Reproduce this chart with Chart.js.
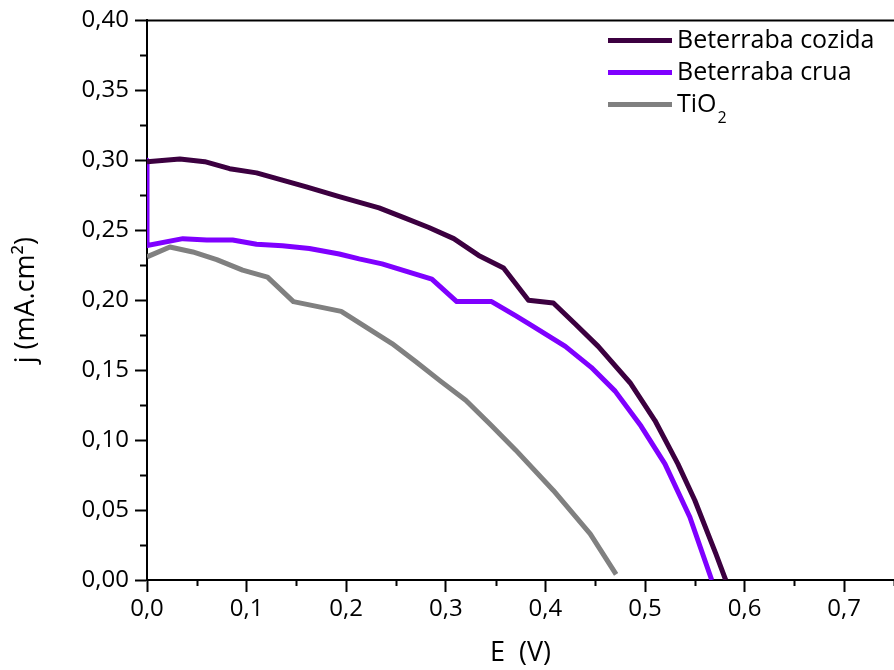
<!DOCTYPE html>
<html>
<head>
<meta charset="utf-8">
<title>j x E</title>
<script src="https://cdn.jsdelivr.net/npm/chart.js@4"></script>
<style>
  html, body { margin: 0; padding: 0; background: #fff; overflow: hidden; }
</style>
</head>
<body>
<canvas id="jvChart" width="897" height="670"></canvas>
<script>
// Beterraba cozida
const cozidaE = [0, 0.033, 0.058, 0.083, 0.11, 0.135, 0.16, 0.193, 0.233, 0.258, 0.283, 0.308, 0.333, 0.358, 0.383, 0.408, 0.43, 0.453, 0.485, 0.51, 0.533, 0.55, 0.571, 0.581];
const cozidaJ = [0.299, 0.301, 0.299, 0.294, 0.291, 0.286, 0.281, 0.274, 0.266, 0.259, 0.252, 0.244, 0.232, 0.223, 0.200, 0.198, 0.183, 0.167, 0.141, 0.114, 0.083, 0.057, 0.019, 0.0];

// Beterraba crua
const cruaE = [0, 0, 0.036, 0.06, 0.086, 0.11, 0.136, 0.163, 0.193, 0.213, 0.236, 0.263, 0.286, 0.311, 0.346, 0.37, 0.386, 0.42, 0.446, 0.47, 0.496, 0.52, 0.545, 0.567];
const cruaJ = [0.300, 0.239, 0.244, 0.243, 0.243, 0.240, 0.239, 0.237, 0.233, 0.2295, 0.226, 0.220, 0.215, 0.199, 0.199, 0.189, 0.182, 0.167, 0.152, 0.135, 0.110, 0.083, 0.045, 0.0];

// TiO2
const tioE = [0, 0.023, 0.046, 0.07, 0.096, 0.121, 0.147, 0.195, 0.246, 0.27, 0.295, 0.32, 0.345, 0.37, 0.408, 0.445, 0.471];
const tioJ = [0.231, 0.238, 0.2345, 0.229, 0.2215, 0.2165, 0.199, 0.192, 0.169, 0.156, 0.142, 0.1285, 0.111, 0.093, 0.064, 0.033, 0.004];

const seriesLabels = ['Beterraba cozida', 'Beterraba crua', 'TiO₂'];
const seriesColors = ['#3c0040', '#7f00ff', '#808080'];

const FONT = "'Open Sans', sans-serif";

function toPoints(xs, ys) {
    return xs.map((x, i) => ({ x: x, y: ys[i] }));
}

function isMajor(value, step) {
    const r = value / step;
    return Math.abs(r - Math.round(r)) < 1e-6;
}

// short minor ticks, top frame line and the legend box
const extrasPlugin = {
    id: 'extras',
    afterDraw(chart) {
        const ctx = chart.ctx;
        const area = chart.chartArea;
        const xs = chart.scales.x;
        const ys = chart.scales.y;
        ctx.save();
        ctx.strokeStyle = '#000';
        ctx.lineWidth = 2;

        ctx.beginPath();
        ctx.moveTo(area.left - 1, area.top);
        ctx.lineTo(area.right, area.top);
        ctx.stroke();

        ctx.beginPath();
        xs.ticks.forEach(t => {
            if (isMajor(t.value, 0.1)) return;
            const px = Math.round(xs.getPixelForValue(t.value)) + 0.5;
            ctx.moveTo(px, area.bottom);
            ctx.lineTo(px, area.bottom + 6);
        });
        ys.ticks.forEach(t => {
            if (isMajor(t.value, 0.05)) return;
            const py = Math.round(ys.getPixelForValue(t.value)) + 0.5;
            ctx.moveTo(area.left, py);
            ctx.lineTo(area.left - 7, py);
        });
        ctx.stroke();

        // legend
        const lx = area.left + 461;
        let ly = area.top + 20;
        ctx.font = '25px ' + FONT;
        ctx.textBaseline = 'middle';
        ctx.fillStyle = '#000';
        chart.data.datasets.forEach(ds => {
            ctx.strokeStyle = ds.borderColor;
            ctx.lineWidth = 5;
            ctx.beginPath();
            ctx.moveTo(lx, ly);
            ctx.lineTo(lx + 64, ly);
            ctx.stroke();
            const label = ds.label;
            if (label.endsWith('₂')) {
                const base = label.slice(0, -1);
                ctx.fillText(base, lx + 69, ly);
                const w = ctx.measureText(base).width;
                ctx.font = '16px ' + FONT;
                ctx.fillText('2', lx + 69 + w + 1, ly + 14);
                ctx.font = '25px ' + FONT;
            } else {
                ctx.fillText(label, lx + 69, ly);
            }
            ly += 32;
        });
        ctx.restore();
    }
};

const datasets = [
    toPoints(cozidaE, cozidaJ),
    toPoints(cruaE, cruaJ),
    toPoints(tioE, tioJ)
].map((pts, i) => ({
    label: seriesLabels[i],
    data: pts,
    borderColor: seriesColors[i],
    backgroundColor: seriesColors[i],
    borderWidth: 5,
    borderJoinStyle: 'round',
    pointRadius: 0,
    tension: 0,
    fill: false
}));

const ctx = document.getElementById('jvChart').getContext('2d');
const jvChart = new Chart(ctx, {
    type: 'line',
    data: { datasets: datasets },
    options: {
        responsive: false,
        animation: false,
        layout: { padding: { top: 20, right: 0, left: 0, bottom: 0 } },
        plugins: {
            legend: { display: false },
            tooltip: { enabled: false }
        },
        scales: {
            x: {
                type: 'linear',
                min: 0,
                max: 0.75,
                border: { color: '#000', width: 2 },
                grid: {
                    drawOnChartArea: false,
                    drawTicks: true,
                    tickLength: 12,
                    tickWidth: 2,
                    tickColor: c => isMajor(c.tick.value, 0.1) ? '#000' : 'rgba(0,0,0,0)'
                },
                ticks: {
                    stepSize: 0.05,
                    autoSkip: false,
                    maxRotation: 0,
                    padding: 3,
                    color: '#000',
                    font: { family: FONT, size: 24 },
                    callback: v => isMajor(v, 0.1) ? v.toFixed(1).replace('.', ',') : ''
                },
                title: {
                    display: true,
                    text: 'E  (V)',
                    color: '#000',
                    font: { family: FONT, size: 27 },
                    padding: { top: 0, bottom: 0 }
                },
                afterFit: scale => { scale.height = 90; }
            },
            y: {
                type: 'linear',
                min: 0,
                max: 0.4,
                border: { color: '#000', width: 2 },
                grid: {
                    drawOnChartArea: false,
                    drawTicks: true,
                    tickLength: 12,
                    tickWidth: 2,
                    tickColor: c => isMajor(c.tick.value, 0.05) ? '#000' : 'rgba(0,0,0,0)'
                },
                ticks: {
                    stepSize: 0.025,
                    autoSkip: false,
                    padding: 6,
                    color: '#000',
                    font: { family: FONT, size: 24 },
                    callback: v => isMajor(v, 0.05) ? v.toFixed(2).replace('.', ',') : ''
                },
                title: {
                    display: true,
                    text: 'j (mA.cm²)',
                    color: '#000',
                    font: { family: FONT, size: 27 },
                    padding: { top: 10, bottom: 4 }
                },
                afterFit: scale => { scale.width = 147; }
            }
        }
    },
    plugins: [extrasPlugin]
});
</script>
</body>
</html>
